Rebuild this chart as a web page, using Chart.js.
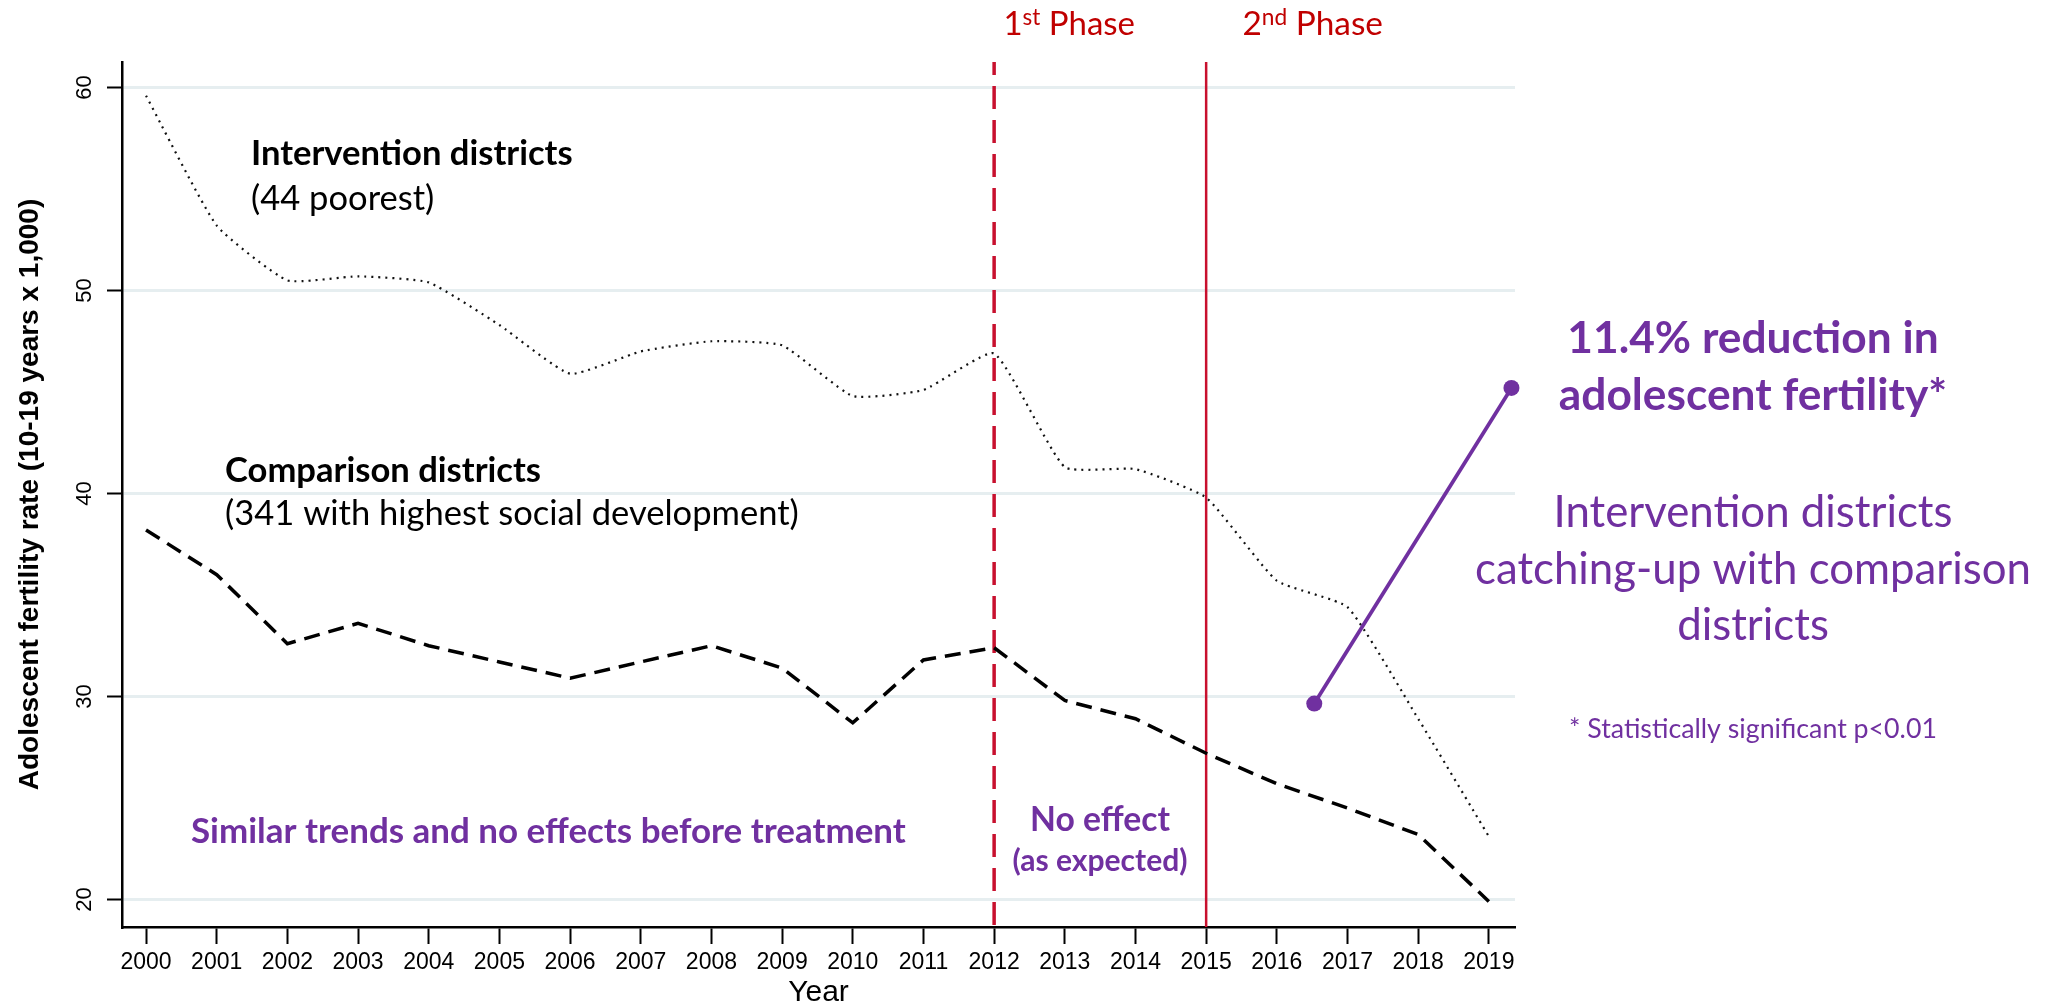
<!DOCTYPE html>
<html><head><meta charset="utf-8">
<script src="https://cdn.jsdelivr.net/npm/chart.js@4.4.1/dist/chart.umd.min.js"></script>
<style>html,body{margin:0;padding:0;background:#fff;} #wrap{width:2061px;height:1004px;position:relative;}</style>
</head><body><div id="wrap"><canvas id="c"></canvas></div>
<script>
// ---- data ----
const years = [2000,2001,2002,2003,2004,2005,2006,2007,2008,2009,2010,2011,2012,2013,2014,2015,2016,2017,2018,2019];
const xTickLabels = years.map(String);
const intervention = [59.6,53.2,50.5,50.7,50.4,48.3,45.9,47.0,47.5,47.3,44.8,45.1,46.9,41.3,41.2,39.8,35.7,34.4,28.9,23.1];
const comparison = [38.2,36.0,32.6,33.6,32.5,31.7,30.9,31.7,32.5,31.4,28.7,31.8,32.4,29.8,28.9,27.2,25.7,24.5,23.2,19.9];
const yTicks = [20,30,40,50,60];
const yTickLabels = ['20','30','40','50','60'];
const phaseYears = [2012, 2015];
const effectYears = [2016.53, 2019.32];
const effectValues = [29.65, 45.2];

// ---- axis ranges ----
const X_MIN = 1999.66, X_MAX = 2019.37, Y_MIN = 18.64, Y_MAX = 61.26;

// ---- styles ----
const PURPLE = '#7030A0';
const RED_TEXT = '#C00000';
const RED_LINE = '#C8102E';
const FAMILY = 'Lato, "Open Sans", sans-serif';
const AXFONT = '"Liberation Sans", Arial, sans-serif';

const notes = [
  {text:'Intervention districts', x:251, y:165, align:'left', bold:true, color:'#000', w:323, g:'L1'},
  {text:'(44 poorest)', x:251, y:210, align:'left', bold:false, color:'#000', w:183, g:'L2'},
  {text:'Comparison districts', x:225, y:482, align:'left', bold:true, color:'#000', w:315, g:'L1'},
  {text:'(341 with highest social development)', x:225, y:525, align:'left', bold:false, color:'#000', w:575, g:'L2'},
  {text:'Similar trends and no effects before treatment', x:191, y:843, align:'left', bold:true, color:PURPLE, w:715, g:'S'},
  {text:'No effect', x:1100, y:831, align:'center', bold:true, color:PURPLE, w:140, g:'N1'},
  {text:'(as expected)', x:1100, y:871, align:'center', bold:true, color:PURPLE, w:175, g:'N2'},
  {text:'11.4% reduction in', x:1753, y:353, align:'center', bold:true, color:PURPLE, w:367, g:'R1'},
  {text:'adolescent fertility*', x:1753, y:410, align:'center', bold:true, color:PURPLE, w:393, g:'R1'},
  {text:'Intervention districts', x:1753, y:527, align:'center', bold:false, color:PURPLE, w:402, g:'R2'},
  {text:'catching-up with comparison', x:1753, y:584, align:'center', bold:false, color:PURPLE, w:562, g:'R2'},
  {text:'districts', x:1753, y:640, align:'center', bold:false, color:PURPLE, w:149, g:'R2'},
  {text:'* Statistically significant p<0.01', x:1753, y:738, align:'center', bold:false, color:PURPLE, w:368, g:'F'}
];
const phaseNotes = [
  {parts:[['1',false],['st',true],[' Phase',false]], x:1003.5, y:35, w:131.5},
  {parts:[['2',false],['nd',true],[' Phase',false]], x:1242.5, y:35, w:140.5}
];
const SUP = 0.68;

function fnt(bold, size){ return (bold?'bold ':'') + size.toFixed(2) + 'px ' + FAMILY; }

const textPlugin = {
  id: 'texts',
  afterDraw(chart) {
    const ctx = chart.ctx;
    ctx.save();
    const groups = {};
    notes.forEach(n => {
      ctx.font = fnt(n.bold, 100);
      const s = 100 * n.w / ctx.measureText(n.text).width;
      (groups[n.g] = groups[n.g] || []).push(s);
    });
    const gsize = {};
    Object.keys(groups).forEach(k => { gsize[k] = groups[k].reduce((a,b)=>a+b,0)/groups[k].length; });
    ctx.textBaseline = 'alphabetic';
    notes.forEach(n => {
      ctx.font = fnt(n.bold, gsize[n.g]);
      ctx.fillStyle = n.color;
      ctx.textAlign = n.align;
      ctx.fillText(n.text, n.x, n.y);
    });
    phaseNotes.forEach(p => {
      let tot = 0;
      p.parts.forEach(([t,sup]) => { ctx.font = fnt(false, sup?100*SUP:100); tot += ctx.measureText(t).width; });
      const size = 100 * p.w / tot;
      let x = p.x;
      ctx.textAlign = 'left';
      ctx.fillStyle = RED_TEXT;
      p.parts.forEach(([t,sup]) => {
        ctx.font = fnt(false, sup ? size*SUP : size);
        ctx.fillText(t, x, sup ? p.y - size*0.3 : p.y);
        x += ctx.measureText(t).width;
      });
    });
    ctx.restore();
  }
};

const pts = (xs, ys) => xs.map((x,i)=>({x:x, y:ys[i]}));

const datasets = [
  { label:'effect', data: pts(effectYears, effectValues), borderColor:PURPLE, backgroundColor:PURPLE,
    borderWidth:3.8, pointRadius:8, pointBorderWidth:0, pointBackgroundColor:PURPLE, clip:false, order:0 },
  { label:'Comparison districts', data: pts(years, comparison), borderColor:'#000', borderWidth:3.5,
    borderDash:[16,9], pointRadius:0, tension:0, order:1 },
  { label:'Intervention districts', data: pts(years, intervention), borderColor:'#111', borderWidth:2.2,
    borderDash:[2,5], pointRadius:0, tension:0.15, order:2 },
  { label:'phase1', data: [{x:phaseYears[0], y:Y_MAX},{x:phaseYears[0], y:Y_MIN}], borderColor:RED_LINE,
    borderWidth:3.5, borderDash:[23,11], borderDashOffset: 10, pointRadius:0, order:3 },
  { label:'phase2', data: [{x:phaseYears[1], y:Y_MAX},{x:phaseYears[1], y:Y_MIN}], borderColor:RED_LINE,
    borderWidth:2.5, pointRadius:0, order:4 }
];

new Chart(document.getElementById('c'), {
  type: 'line',
  data: { datasets },
  plugins: [textPlugin],
  options: {
    responsive: true, maintainAspectRatio: false, devicePixelRatio: 1, animation: false,
    layout: { padding: { left: 0, top: 62, right: 546, bottom: 0 } },
    plugins: { legend: { display: false }, tooltip: { enabled: false } },
    elements: { line: { borderCapStyle: 'butt' } },
    scales: {
      x: {
        type: 'linear', min: X_MIN, max: X_MAX,
        afterBuildTicks: s => { s.ticks = years.map(v => ({value: v})); },
        afterFit: s => { s.height = 77; },
        ticks: { autoSkip: false, maxRotation: 0, minRotation: 0, padding: 5, color: '#000',
                 font: { family: AXFONT, size: 23 },
                 callback: (v) => xTickLabels[years.indexOf(v)] },
        grid: { drawOnChartArea: false, tickColor: '#000', tickLength: 17, tickWidth: 2 },
        border: { display: true, color: '#000', width: 2.5 },
        title: { display: true, text: 'Year', color: '#000', font: { family: AXFONT, size: 30, lineHeight: 0.73 },
                 padding: { top: 0, bottom: 0 } }
      },
      y: {
        type: 'linear', min: Y_MIN, max: Y_MAX,
        afterBuildTicks: s => { s.ticks = yTicks.map(v => ({value: v})); },
        afterFit: s => { s.width = 122; },
        ticks: { minRotation: 90, maxRotation: 90, crossAlign: 'center', padding: 10, color: '#000',
                 font: { family: AXFONT, size: 22 },
                 callback: (v) => yTickLabels[yTicks.indexOf(v)] },
        grid: { color: '#e6eef0', lineWidth: 3, tickColor: '#000', tickLength: 15, tickWidth: 2 },
        border: { display: true, color: '#000', width: 2.5 },
        title: { display: true, text: 'Adolescent fertility rate (10-19 years x 1,000)', color: '#000',
                 font: { family: AXFONT, size: 28, weight: 'bold', lineHeight: 1 }, padding: { top: 16, bottom: 0 } }
      }
    }
  }
});
</script>
</body></html>
